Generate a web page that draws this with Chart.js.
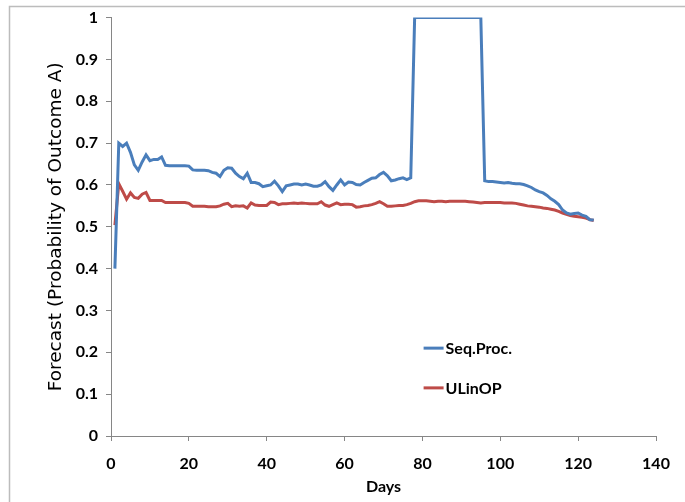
<!DOCTYPE html>
<html>
<head>
<meta charset="utf-8">
<script src="https://cdn.jsdelivr.net/npm/chart.js@4/dist/chart.umd.min.js"></script>
<style>
  html, body { margin: 0; padding: 0; background: #fff; }
  #wrap { position: relative; width: 685px; height: 502px; }
</style>
</head>
<body>
<div id="wrap"><canvas id="chart" width="685" height="502"></canvas></div>
<script>
// days 1..124
var days = [];
for (let d = 1; d <= 124; d++) days.push(d);

var seqProc = [
  0.400, 0.700, 0.692, 0.700, 0.678, 0.648, 0.635, 0.655, 0.672, 0.658,
  0.661, 0.661, 0.667, 0.647, 0.646, 0.646, 0.646, 0.646, 0.646, 0.645,
  0.636, 0.635, 0.635, 0.635, 0.634, 0.630, 0.628, 0.620, 0.635, 0.641,
  0.640, 0.628, 0.620, 0.615, 0.628, 0.606, 0.606, 0.603, 0.596, 0.598,
  0.600, 0.609, 0.598, 0.584, 0.598, 0.600, 0.602, 0.602, 0.600, 0.602,
  0.600, 0.597, 0.597, 0.600, 0.608, 0.596, 0.587, 0.600, 0.612, 0.600,
  0.607, 0.606, 0.601, 0.600, 0.606, 0.611, 0.616, 0.617, 0.625, 0.630,
  0.622, 0.610, 0.612, 0.615, 0.617, 0.613, 0.617, 1, 1, 1,
  1, 1, 1, 1, 1, 1, 1, 1, 1, 1,
  1, 1, 1, 1, 1, 0.610, 0.608, 0.608, 0.607, 0.606,
  0.605, 0.606, 0.604, 0.603, 0.603, 0.601, 0.598, 0.594, 0.588, 0.584,
  0.581, 0.575, 0.567, 0.561, 0.553, 0.540, 0.533, 0.530, 0.532, 0.533,
  0.528, 0.525, 0.517, 0.516
];

var uLinOP = [
  0.504, 0.603, 0.585, 0.566, 0.581, 0.570, 0.568, 0.578, 0.582, 0.563,
  0.563, 0.563, 0.563, 0.558, 0.558, 0.558, 0.558, 0.558, 0.558, 0.556,
  0.549, 0.549, 0.549, 0.549, 0.548, 0.548, 0.548, 0.550, 0.554, 0.556,
  0.548, 0.550, 0.549, 0.550, 0.545, 0.557, 0.552, 0.551, 0.551, 0.551,
  0.559, 0.558, 0.553, 0.555, 0.555, 0.556, 0.557, 0.556, 0.557, 0.556,
  0.555, 0.555, 0.555, 0.560, 0.552, 0.549, 0.553, 0.557, 0.553, 0.554,
  0.554, 0.553, 0.547, 0.548, 0.550, 0.551, 0.553, 0.556, 0.560, 0.555,
  0.549, 0.549, 0.550, 0.551, 0.551, 0.553, 0.556, 0.560, 0.562, 0.562,
  0.562, 0.561, 0.560, 0.561, 0.561, 0.560, 0.561, 0.561, 0.561, 0.561,
  0.561, 0.560, 0.559, 0.558, 0.557, 0.558, 0.558, 0.558, 0.558, 0.558,
  0.557, 0.557, 0.557, 0.556, 0.554, 0.552, 0.550, 0.549, 0.548, 0.547,
  0.545, 0.544, 0.542, 0.540, 0.537, 0.533, 0.530, 0.527, 0.525, 0.524,
  0.523, 0.521, 0.517, 0.515
];

var seriesNames = ["Seq.Proc.", "ULinOP"];
var xTitle = "Days";
var yTitle = "Forecast (Probability of Outcome A)";

var FONT = "Lato, 'Liberation Sans', sans-serif";
var axisColor = "#868686";

function toPoints(ys) {
  return days.map((d, i) => ({ x: d, y: ys[i] }));
}

// outer frame like the spreadsheet chart border
var framePlugin = {
  id: 'frame',
  beforeDraw(chart) {
    let ctx = chart.ctx;
    ctx.save();
    ctx.fillStyle = '#fff';
    ctx.fillRect(0, 0, chart.width, chart.height);
    ctx.strokeStyle = '#bcbcbc';
    ctx.lineWidth = 1.5;
    ctx.strokeRect(9.5, 6.5, 760, 560);
    ctx.restore();
  }
};

// legend drawn inside the plot area
var insideLegend = {
  id: 'insideLegend',
  afterDatasetsDraw(chart) {
    let ctx = chart.ctx;
    let xs = chart.scales.x, ys = chart.scales.y;
    let x0 = xs.getPixelForValue(80.3);
    let rows = [ys.getPixelForValue(0.21), ys.getPixelForValue(0.115)];
    ctx.save();
    chart.data.datasets.forEach((ds, i) => {
      let y = rows[i];
      ctx.strokeStyle = ds.borderColor;
      ctx.lineWidth = 3;
      ctx.beginPath();
      ctx.moveTo(x0, y);
      ctx.lineTo(x0 + 20, y);
      ctx.stroke();
      ctx.fillStyle = '#000';
      ctx.font = "bold 16px " + FONT;
      ctx.textBaseline = 'middle';
      ctx.textAlign = 'left';
      ctx.fillText(ds.label, x0 + 22, y + 1);
    });
    ctx.restore();
  }
};

var ctx = document.getElementById('chart');
var lineChart = new Chart(ctx, {
  type: 'line',
  data: {
    datasets: [{
      label: seriesNames[0],
      data: toPoints(seqProc),
      borderColor: "#4A7EBB",
      borderWidth: 3,
      pointRadius: 0,
      fill: false,
      tension: 0
    }, {
      label: seriesNames[1],
      data: toPoints(uLinOP),
      borderColor: "#BE4B48",
      borderWidth: 3,
      pointRadius: 0,
      fill: false,
      tension: 0
    }]
  },
  options: {
    responsive: false,
    animation: false,
    layout: { padding: { left: 0, top: 17, right: 29, bottom: 0 } },
    plugins: {
      legend: { display: false },
      tooltip: { enabled: false }
    },
    scales: {
      x: {
        type: 'linear',
        min: 0, max: 140,
        ticks: { stepSize: 20, color: '#000', font: { family: FONT, size: 16, weight: 'bold' }, padding: 13, maxRotation: 0 },
        grid: { drawOnChartArea: false, color: axisColor, tickLength: 5 },
        border: { color: axisColor, width: 1 },
        title: { display: true, text: xTitle, color: '#000', font: { family: FONT, size: 16, weight: 'bold' }, padding: { top: 0, bottom: 6 } },
        afterFit(scale) { scale.height = 66; }
      },
      y: {
        min: 0, max: 1,
        ticks: {
          stepSize: 0.1, color: '#000', font: { family: FONT, size: 16, weight: 'bold' }, padding: 8,
          callback: (v) => String(Number(v.toFixed(1)))
        },
        grid: { drawOnChartArea: false, color: axisColor, tickLength: 5 },
        border: { color: axisColor, width: 1 },
        title: { display: true, text: yTitle, color: '#000', font: { family: "'DejaVu Sans', sans-serif", size: 18.5 }, padding: { top: 45, bottom: 0 } },
        afterFit(scale) { scale.width = 111; }
      }
    }
  },
  plugins: [framePlugin, insideLegend]
});
</script>
</body>
</html>
